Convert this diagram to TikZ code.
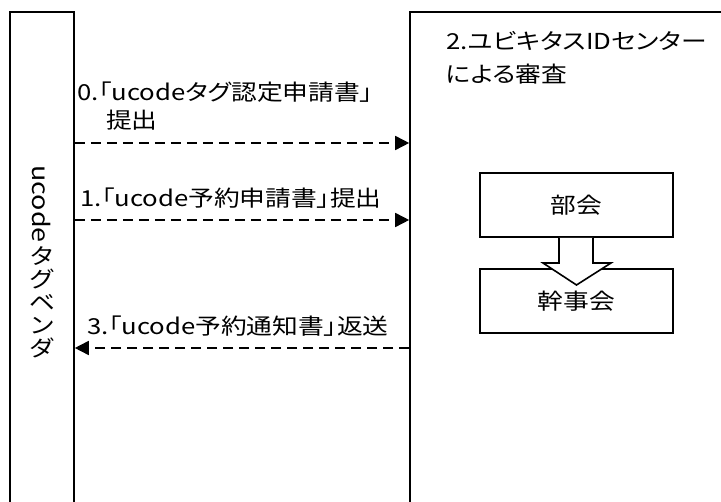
\documentclass[tikz,border=0pt]{standalone}
\usepackage{fontspec}
\setmainfont{Noto Sans CJK JP}[RawFeature=+palt, FakeStretch=1.17]
\usetikzlibrary{arrows.meta}
\tikzset{
  lane/.style={draw, line width=1.6pt, rectangle, inner sep=0pt},
  inbox/.style={draw, line width=1.6pt, rectangle, minimum width=193pt, minimum height=64pt, inner sep=0pt, font=\fontsize{22}{24}\selectfont},
  msg/.style={line width=1.6pt, dash pattern=on 10pt off 6pt, -{Triangle[length=14pt,width=14pt]}},
  lbl/.style={inner sep=0pt, anchor=west, font=\fontsize{22}{28}\selectfont, align=left},
}
\begin{document}
\begin{tikzpicture}[x=1pt,y=-1pt]
\useasboundingbox (0,0) rectangle (721,502);
\clip (0,0) rectangle (721,502);
\node[lane, minimum width=64pt, minimum height=510pt] (vendor) at (42,267) {};
\node[lane, minimum width=330pt, minimum height=510pt] (center) at (575,267) {};
% vertical title
\node[inner sep=0pt, rotate=-90, font=\fontsize{23}{24}\selectfont] (vt1) at (42,204) {ucode};
\node[inner sep=0pt, anchor=north, align=center, font=\fontsize{22}{23}\selectfont] (vt2) at (42,246) {タ\\グ\\ベ\\ン\\ダ};
% center title
\node[lbl, font=\fontsize{22}{33}\selectfont] (ctitle) at (446,58) {2.ユビキタスIDセンター\\による審査};
% inner boxes
\node[inbox] (bukai) at (576.5,205) {部会};
\node[inbox] (kanji) at (576.5,301) {幹事会};
\draw[line width=1.6pt, fill=white]
  (bukai.south -| 559,0) -- (559,263) -- (543,263) -- (kanji.north |- 0,285) -- (611,263) -- (593,263) -- (bukai.south -| 593,0) ;
% messages
\coordinate (m0a) at (vendor.east |- 0,143);
\coordinate (m0b) at (center.west |- 0,143);
\coordinate (m1a) at (vendor.east |- 0,220);
\coordinate (m1b) at (center.west |- 0,220);
\coordinate (m3a) at (vendor.east |- 0,348);
\coordinate (m3b) at (center.west |- 0,348);
\draw[msg] (m0a) -- (m0b);
\draw[msg] (m1a) -- (m1b);
\draw[msg] (m3b) -- (m3a);
\node[lbl] (l0) at (77,106) {0.「ucodeタグ認定申請書」\\\hspace*{29pt}提出};
\node[lbl] (l1) at (80,198) {1.「ucode予約申請書」提出};
\node[lbl] (l3) at (87,326) {3.「ucode予約通知書」返送};
\end{tikzpicture}
\end{document}
